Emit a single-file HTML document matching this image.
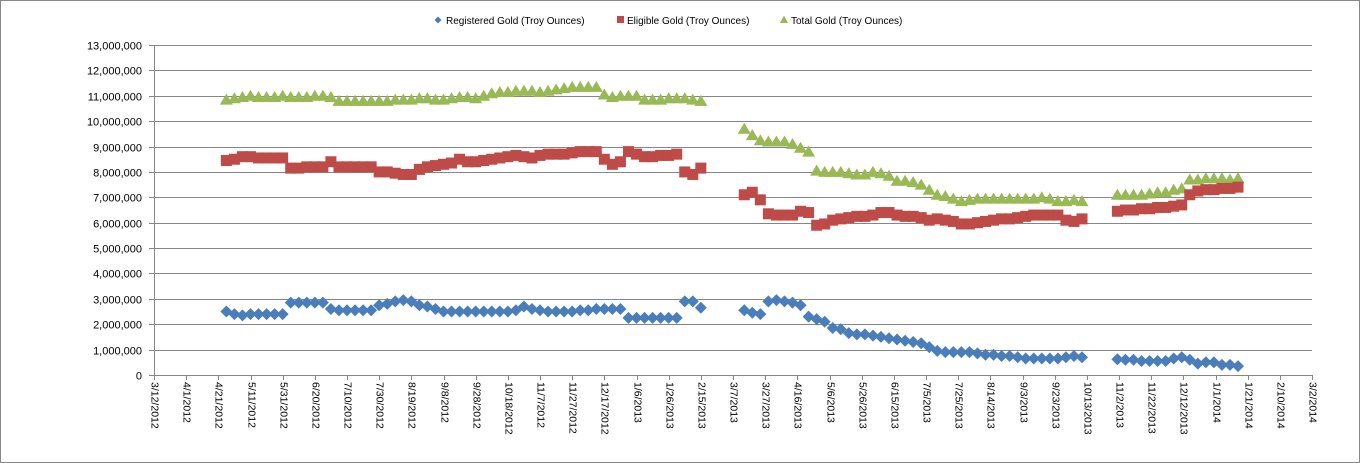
<!DOCTYPE html>
<html><head><meta charset="utf-8"><style>
html,body{margin:0;padding:0;background:#fff;}
svg{display:block;font-family:"Liberation Sans",Tahoma,sans-serif;}
</style></head><body>
<svg id="chart" width="1360" height="463" viewBox="0 0 1360 463">
<rect x="0.5" y="0.5" width="1359" height="462" fill="#fff" stroke="#888"/>
<g id="legend" font-size="10" fill="#000">
  <g>
    <path d="M438 16.5 L441.5 20 L438 23.5 L434.5 20 Z" fill="#4a7ebb"/>
    <text x="446" y="24">Registered Gold (Troy Ounces)</text>
  </g>
  <g>
    <rect x="617" y="16" width="7" height="7" fill="#be4b48"/>
    <text x="627" y="24">Eligible Gold (Troy Ounces)</text>
  </g>
  <g>
    <path d="M784 15.5 L788 23 L780 23 Z" fill="#98b954"/>
    <text x="791" y="24">Total Gold (Troy Ounces)</text>
  </g>
</g>
<g id="grid"></g>
<g id="marks"></g>
<g id="axes"></g>
</svg>
<script>
const yTicks = [0,1e6,2e6,3e6,4e6,5e6,6e6,7e6,8e6,9e6,10e6,11e6,12e6,13e6];
const xTickLabels = ["3/12/2012","4/1/2012","4/21/2012","5/11/2012","5/31/2012","6/20/2012","7/10/2012","7/30/2012","8/19/2012","9/8/2012","9/28/2012","10/18/2012","11/7/2012","11/27/2012","12/17/2012","1/6/2013","1/26/2013","2/15/2013","3/7/2013","3/27/2013","4/16/2013","5/6/2013","5/26/2013","6/15/2013","7/5/2013","7/25/2013","8/14/2013","9/3/2013","9/23/2013","10/13/2013","11/2/2013","11/22/2013","12/12/2013","1/1/2014","1/21/2014","2/10/2014","3/2/2014"];
// days since 3/12/2012
const days = [45,50,55,60,65,70,75,80,85,90,95,100,105,110,115,120,125,130,135,140,145,150,155,160,165,170,175,180,185,190,195,200,205,210,215,220,225,230,235,240,245,250,255,260,265,270,275,280,285,290,295,300,305,310,315,320,325,330,335,340,
367,372,377,382,387,392,397,402,407,412,417,422,427,432,437,442,447,452,457,462,467,472,477,482,487,492,497,502,507,512,517,522,527,532,537,542,547,552,557,562,567,572,577,
599,604,609,614,619,624,629,634,639,644,649,654,659,664,669,674];
// values in millions of troy ounces
const registered = [2.5,2.4,2.35,2.4,2.4,2.4,2.4,2.4,2.85,2.85,2.85,2.85,2.85,2.6,2.55,2.55,2.55,2.55,2.55,2.75,2.8,2.9,2.95,2.9,2.75,2.7,2.6,2.5,2.5,2.5,2.5,2.5,2.5,2.5,2.5,2.5,2.55,2.7,2.6,2.55,2.5,2.5,2.5,2.5,2.55,2.55,2.6,2.6,2.6,2.6,2.25,2.25,2.25,2.25,2.25,2.25,2.25,2.9,2.9,2.65,
2.55,2.45,2.4,2.9,2.95,2.9,2.85,2.75,2.3,2.2,2.1,1.85,1.8,1.65,1.6,1.6,1.55,1.5,1.45,1.4,1.35,1.3,1.25,1.1,0.95,0.9,0.9,0.9,0.9,0.85,0.8,0.8,0.75,0.75,0.7,0.65,0.65,0.65,0.65,0.65,0.7,0.75,0.7,
0.62,0.6,0.6,0.55,0.55,0.55,0.55,0.65,0.7,0.6,0.45,0.5,0.5,0.4,0.4,0.35];
const eligible = [8.45,8.5,8.6,8.6,8.55,8.55,8.55,8.55,8.15,8.15,8.2,8.2,8.2,8.4,8.2,8.2,8.2,8.2,8.2,8.0,8.0,7.95,7.9,7.9,8.1,8.2,8.25,8.3,8.35,8.5,8.4,8.4,8.45,8.5,8.55,8.6,8.65,8.6,8.55,8.65,8.7,8.7,8.7,8.75,8.8,8.8,8.8,8.5,8.3,8.4,8.8,8.7,8.6,8.6,8.65,8.65,8.7,8.0,7.9,8.15,
7.1,7.2,6.9,6.35,6.3,6.3,6.3,6.45,6.4,5.9,5.95,6.1,6.15,6.2,6.25,6.25,6.3,6.4,6.4,6.3,6.25,6.25,6.2,6.1,6.15,6.1,6.05,5.95,5.95,6.0,6.05,6.1,6.15,6.15,6.2,6.25,6.3,6.3,6.3,6.3,6.1,6.05,6.15,
6.45,6.5,6.5,6.55,6.55,6.6,6.6,6.65,6.7,7.1,7.25,7.3,7.3,7.35,7.35,7.4];
const total = [10.85,10.9,10.95,11.0,10.95,10.95,10.95,11.0,10.95,10.95,10.95,11.0,11.0,10.95,10.8,10.8,10.8,10.8,10.8,10.8,10.8,10.85,10.85,10.85,10.9,10.9,10.85,10.85,10.9,10.95,10.95,10.9,11.0,11.1,11.15,11.15,11.2,11.2,11.2,11.15,11.2,11.25,11.3,11.35,11.35,11.35,11.35,11.05,10.95,11.0,11.0,11.0,10.85,10.85,10.85,10.9,10.9,10.9,10.85,10.8,
9.7,9.45,9.25,9.2,9.2,9.2,9.1,8.95,8.8,8.05,8.0,8.0,8.0,7.95,7.9,7.9,8.0,7.95,7.85,7.65,7.65,7.6,7.5,7.3,7.1,7.05,6.95,6.85,6.9,6.95,6.95,6.95,6.95,6.95,6.95,6.95,6.95,7.0,6.95,6.85,6.85,6.9,6.85,
7.1,7.1,7.1,7.1,7.15,7.2,7.2,7.3,7.35,7.7,7.7,7.75,7.75,7.75,7.7,7.75];

const NS = "http://www.w3.org/2000/svg";
const X0 = 154, X1 = 1312, DAYS = 720, Y0 = 375, Y1 = 45, YMAX = 13e6;
const xs = d => X0 + (X1 - X0) * d / DAYS;
const ys = v => Y0 - (Y0 - Y1) * v / YMAX;
function mk(tag, attrs, parent){ const e=document.createElementNS(NS,tag); for(const k in attrs) e.setAttribute(k,attrs[k]); parent.appendChild(e); return e; }
const grid = document.getElementById('grid'), axes = document.getElementById('axes'), marks = document.getElementById('marks');

yTicks.forEach(v => {
  const y = Math.round(ys(v)) + 0.5;
  if (v > 0) {
    const g = mk('line', {x1:X0, x2:X1, y1:y, y2:y, stroke:'#868686', 'stroke-width':1}, grid);
    
    
  }
  const t = mk('line', {x1:X0-5, x2:X0, y1:y, y2:y, stroke:'#868686'}, axes);
  
  
  const lb = mk('text', {x:142, y:y+4, 'text-anchor':'end', 'font-size':11, fill:'#000'}, axes);
  lb.textContent = v.toLocaleString('en-US');
  
  
});
const ya = mk('line', {x1:X0+0.5, x2:X0+0.5, y1:Y1, y2:Y0, stroke:'#868686'}, axes);


const xa = mk('line', {x1:X0, x2:X1, y1:Y0+0.5, y2:Y0+0.5, stroke:'#868686'}, axes);


xTickLabels.forEach((s, i) => {
  const x = Math.round(xs(i * 20)) + 0.5;
  const t = mk('line', {x1:x, x2:x, y1:Y0, y2:Y0+5, stroke:'#868686'}, axes);
  
  
  const lb = mk('text', {transform:`translate(${x},382) rotate(90)`, 'dominant-baseline':'central', 'font-size':10.5, fill:'#000'}, axes);
  lb.textContent = s;
  
  
});

const gT = mk('g', {fill:'#98b954'}, marks);


const gE = mk('g', {fill:'#be4b48'}, marks);


const gR = mk('g', {fill:'#4a7ebb'}, marks);


days.forEach((d, i) => {
  const x = xs(d);
  let y = ys(total[i] * 1e6);
  const p1 = mk('path', {d:`M${x} ${y-6}L${x+6.5} ${y+5}L${x-6.5} ${y+5}Z`}, gT);
  
  
  y = ys(eligible[i] * 1e6);
  const p2 = mk('rect', {x:x-5.5, y:y-5.5, width:11, height:11}, gE);
  
  
  y = ys(registered[i] * 1e6);
  const p3 = mk('path', {d:`M${x} ${y-6}L${x+6} ${y}L${x} ${y+6}L${x-6} ${y}Z`}, gR);
  
  
});
</script>
</body></html>
